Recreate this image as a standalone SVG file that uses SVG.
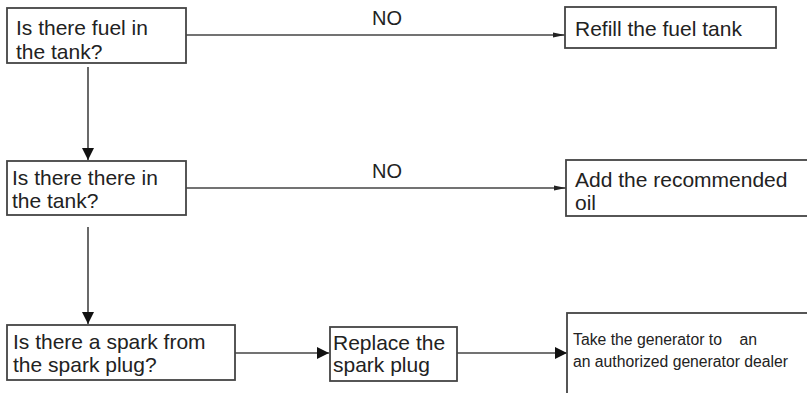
<svg xmlns="http://www.w3.org/2000/svg" width="807" height="393" viewBox="0 0 807 393">
<style>
  .box { fill: #fff; stroke: #444; stroke-width: 1.8; }
  .t { font-family: "Liberation Sans", Arial, sans-serif; font-size: 21px; fill: #222; }
  .lbl { font-family: "Liberation Sans", Arial, sans-serif; font-size: 20px; fill: #222; }
  .tn { font-family: "Liberation Sans Narrow", "Liberation Sans", Arial, sans-serif; font-size: 16px; fill: #222; }
  .ln { fill: none; stroke: #444; stroke-width: 1.6; }
</style>
<defs>
  <marker id="aS" markerUnits="userSpaceOnUse" markerWidth="13" markerHeight="8" refX="12" refY="4" orient="auto">
    <path d="M0,1.5 L12,4 L0,6.5 z" fill="#222"/>
  </marker>
  <marker id="aL" markerUnits="userSpaceOnUse" markerWidth="13" markerHeight="14" refX="12" refY="7" orient="auto">
    <path d="M0,1 L12,7 L0,13 z" fill="#111"/>
  </marker>
</defs>
<rect width="807" height="393" fill="#fff"/>
<g id="connectors">
  <line class="ln" x1="186" y1="35" x2="565" y2="35" marker-end="url(#aS)"/>
  <line class="ln" x1="88" y1="67" x2="88" y2="160" marker-end="url(#aL)"/>
  <line class="ln" x1="186" y1="188" x2="566" y2="188" marker-end="url(#aS)"/>
  <line class="ln" x1="88" y1="227" x2="88" y2="324" marker-end="url(#aL)"/>
  <line class="ln" x1="235" y1="353" x2="329" y2="353" marker-end="url(#aL)"/>
  <line class="ln" x1="457" y1="353" x2="567" y2="353" marker-end="url(#aL)"/>
  <text class="lbl" x="372" y="25">NO</text>
  <text class="lbl" x="372" y="178">NO</text>
</g>
<g id="q1">
  <rect class="box" x="7" y="8" width="179" height="55"/>
  <text class="t" x="16" y="35">Is there fuel in</text>
  <text class="t" x="16" y="59">the tank?</text>
</g>
<g id="refill">
  <rect class="box" x="565" y="7" width="211" height="41"/>
  <text class="t" x="575" y="36">Refill the fuel tank</text>
</g>
<g id="q2">
  <rect class="box" x="7" y="161" width="179" height="54"/>
  <text class="t" x="12" y="185">Is there there in</text>
  <text class="t" x="12" y="208">the tank?</text>
</g>
<g id="addoil">
  <rect class="box" x="566" y="160" width="260" height="56"/>
  <text class="t" x="575" y="187">Add the recommended</text>
  <text class="t" x="575" y="210">oil</text>
</g>
<g id="q3">
  <rect class="box" x="7" y="325" width="228" height="55"/>
  <text class="t" x="13" y="349">Is there a spark from</text>
  <text class="t" x="13" y="372">the spark plug?</text>
</g>
<g id="replace">
  <rect class="box" x="330" y="327" width="127" height="54"/>
  <text class="t" x="333" y="350">Replace the</text>
  <text class="t" x="333" y="372">spark plug</text>
</g>
<g id="dealer">
  <rect class="box" x="567" y="313" width="260" height="120"/>
  <text class="tn" x="573" y="345" textLength="184" lengthAdjust="spacingAndGlyphs" xml:space="preserve">Take the generator to    an</text>
  <text class="tn" x="573" y="367" textLength="215" lengthAdjust="spacingAndGlyphs">an authorized generator dealer</text>
</g>
</svg>
